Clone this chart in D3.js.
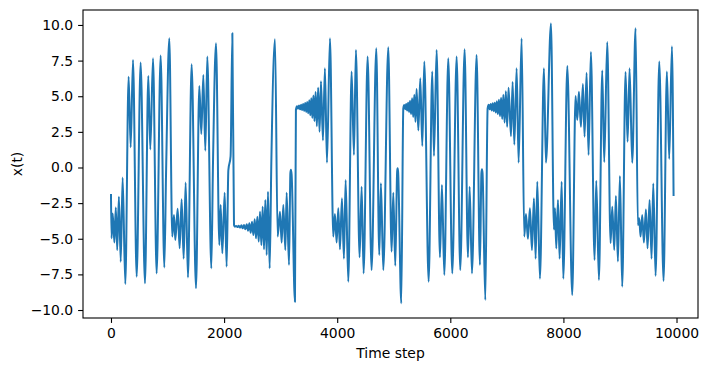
<!DOCTYPE html>
<html>
<head>
<meta charset="utf-8">
<script src="https://d3js.org/d3.v7.min.js"></script>
<style>
  body { margin: 0; background: #fff; }
  text { font-family: "DejaVu Sans", sans-serif; }
</style>
</head>
<body>
<div id="chart"></div>
<script>
// time steps of the turning points
var steps = [
  0, 10, 30, 60, 85, 110, 140, 172, 206, 253, 312, 348, 389, 454, 524, 601, 660, 695, 743, 807,
  878, 943, 975, 1031, 1084, 1114, 1137, 1179, 1214, 1249, 1285, 1320, 1361, 1426, 1503, 1562, 1597, 1633, 1668, 1703,
  1774, 1804, 1857, 1916, 1939, 1969, 2010, 2045, 2075, 2115, 2146, 2175, 2190, 2212, 2236, 2259, 2283, 2306, 2330, 2353,
  2377, 2400, 2424, 2447, 2471, 2494, 2518, 2541, 2565, 2588, 2612, 2635, 2659, 2682, 2706, 2729, 2753, 2776, 2806, 2835,
  2900, 2947, 2988, 3018, 3047, 3083, 3106, 3148, 3172, 3182, 3194, 3253, 3270, 3290, 3308, 3326, 3344, 3362, 3380, 3398,
  3416, 3434, 3452, 3470, 3488, 3506, 3524, 3542, 3560, 3579, 3598, 3618, 3640, 3663, 3688, 3713, 3748, 3783, 3819, 3872,
  3931, 3960, 3990, 4019, 4049, 4084, 4119, 4149, 4196, 4255, 4296, 4331, 4396, 4432, 4467, 4538, 4608, 4691, 4744, 4773,
  4815, 4903, 4962, 4992, 5027, 5060, 5068, 5077, 5133, 5169, 5186, 5203, 5220, 5237, 5254, 5271, 5288, 5306, 5325, 5344,
  5364, 5384, 5404, 5435, 5469, 5505, 5540, 5617, 5681, 5711, 5758, 5817, 5852, 5894, 5964, 6035, 6112, 6176, 6253, 6312,
  6342, 6383, 6465, 6524, 6550, 6560, 6570, 6619, 6660, 6680, 6697, 6715, 6733, 6751, 6769, 6787, 6805, 6823, 6841, 6860,
  6879, 6898, 6918, 6938, 6960, 6982, 7005, 7030, 7073, 7102, 7132, 7173, 7208, 7261, 7308, 7338, 7373, 7408, 7444, 7479,
  7509, 7538, 7585, 7656, 7691, 7780, 7833, 7851, 7874, 7904, 7933, 7969, 7998, 8069, 8156, 8215, 8245, 8274, 8310, 8345,
  8374, 8410, 8445, 8486, 8551, 8581, 8628, 8687, 8722, 8775, 8834, 8864, 8899, 8928, 8964, 8999, 9040, 9099, 9135, 9170,
  9217, 9276, 9317, 9341, 9364, 9394, 9423, 9459, 9488, 9524, 9559, 9589, 9630, 9695, 9771, 9830, 9871, 9919, 9948
];

// x(t) at those steps
var xValues = [
  -1.93, -4.97, -3.22, -5.27, -2.8, -5.79, -2.05, -6.61, -0.71, -8.18, 6.37, 1.42, 7.54, -7.66, 7.36, -8.13, 6.42, 1.27, 7.66, -7.43,
  7.85, -7.01, -0.1, 9.06, -4.85, -3.33, -5.09, -2.89, -5.67, -2.23, -6.4, -1.06, -7.71, 7.24, -8.48, 5.72, 2.35, 6.49, 1.18, 7.78,
  -7.08, 0.41, 8.71, -5.44, -2.63, -6.02, -1.77, -6.96, -0.2, 0.8, 9.42, -4.04, -4.15, -4.1, -4.18, -4.08, -4.22, -4.06, -4.27, -4.04,
  -4.34, -3.99, -4.43, -3.92, -4.58, -3.8, -4.74, -3.64, -4.97, -3.45, -5.2, -3.1, -5.44, -2.75, -5.74, -2.28, -6.14, -1.7, -7.08, 0.3,
  9.0, -4.85, -3.1, -5.27, -2.63, -5.79, -1.77, -6.84, -0.4, -0.15, -0.5, -9.42, 4.05, 4.3, 4.12, 4.35, 4.08, 4.4, 4.03, 4.46,
  3.97, 4.52, 3.9, 4.6, 3.8, 4.72, 3.66, 4.86, 3.48, 5.05, 3.25, 5.3, 2.9, 5.6, 2.5, 6.05, 1.9, 6.96, 0.34, 9.06,
  -4.85, -3.26, -5.27, -2.86, -5.74, -2.16, -6.4, -0.88, -8.01, 6.73, 0.88, 8.25, -6.3, -1.35, -7.43, 7.78, -7.2, 8.36, -6.14, -1.1,
  -7.2, 8.43, -5.9, -1.77, -6.9, -0.3, -0.06, -0.3, -9.53, 4.15, 4.38, 4.08, 4.45, 4.0, 4.55, 3.9, 4.68, 3.75, 4.85, 3.55,
  5.1, 3.2, 5.5, 2.6, 6.26, 1.5, 7.43, -8.01, 6.73, 0.8, 8.25, -6.3, -1.23, -7.54, 7.66, -7.43, 7.78, -7.2, 8.29, -6.3,
  -1.35, -7.43, 7.89, -6.84, -0.4, -0.13, -0.4, -9.3, 4.15, 4.4, 4.08, 4.45, 4.0, 4.5, 3.95, 4.55, 3.85, 4.65, 3.75, 4.75,
  3.6, 4.9, 3.4, 5.1, 3.15, 5.35, 2.85, 5.6, 2.2, 6.0, 1.6, 6.96, 0.34, 9.06, -4.85, -3.26, -5.0, -2.86, -5.79, -2.16,
  -6.4, -1.0, -7.8, 6.96, 0.33, 10.1, -4.35, -2.86, -5.68, -2.28, -6.4, -1.0, -7.8, 7.12, -8.95, 5.01, 3.33, 5.32, 2.86, 5.85,
  2.16, 6.64, 0.88, 8.11, -6.49, -0.93, -7.89, 6.81, 0.37, 8.8, -5.3, -2.75, -5.79, -2.0, -6.6, -0.6, -8.36, 6.7, 1.8, 6.96,
  0.33, 9.77, -4.04, -3.57, -4.85, -3.33, -5.27, -2.94, -5.67, -2.28, -6.4, -1.12, -7.6, 7.43, -7.96, 6.73, 0.6, 8.5, -1.93
];

var xTicks = [0, 2000, 4000, 6000, 8000, 10000];
var yTicks = [-10, -7.5, -5, -2.5, 0, 2.5, 5, 7.5, 10];
var xLabel = "Time step";
var yLabel = "x(t)";

var W = 711, H = 371;
var margin = {left: 83, top: 10, right: 13, bottom: 53};
var iw = W - margin.left - margin.right;
var ih = H - margin.top - margin.bottom;

var svg = d3.select("#chart").append("svg")
  .attr("width", W).attr("height", H);

var g = svg.append("g").attr("transform", "translate(" + margin.left + "," + margin.top + ")");

var x = d3.scaleLinear().domain([-495, 10380]).range([0, iw]);
var y = d3.scaleLinear().domain([-10.56, 11.05]).range([ih, 0]);

var data = steps.map(function (s, i) { return [s, xValues[i]]; });

var line = d3.line()
  .x(function (d) { return x(d[0]); })
  .y(function (d) { return y(d[1]); })
  .curve(d3.curveMonotoneX);

g.append("path")
  .datum(data)
  .attr("d", line)
  .attr("fill", "none")
  .attr("stroke", "#1f77b4")
  .attr("stroke-width", 2)
  .attr("stroke-linejoin", "round")
  .attr("stroke-linecap", "square");

// axes
var xAxis = g.append("g").attr("transform", "translate(0," + ih + ")")
  .call(d3.axisBottom(x).tickValues(xTicks).tickFormat(d3.format("d"))
    .tickSize(4.9).tickPadding(4.9).tickSizeOuter(0));
var yAxis = g.append("g")
  .call(d3.axisLeft(y).tickValues(yTicks).tickFormat(d3.format(".1f"))
    .tickSize(4.9).tickPadding(4.9).tickSizeOuter(0));

[xAxis, yAxis].forEach(function (a) {
  a.select(".domain").remove();
  a.selectAll("line").attr("stroke", "#000").attr("stroke-width", 1.1);
  a.selectAll("text").attr("fill", "#000").style("font-size", "13.9px")
    .style("font-family", "'DejaVu Sans', sans-serif");
});

// frame
g.append("rect")
  .attr("width", iw).attr("height", ih)
  .attr("fill", "none").attr("stroke", "#000").attr("stroke-width", 1.1);

svg.append("text")
  .attr("x", margin.left + iw / 2).attr("y", 358)
  .attr("text-anchor", "middle")
  .style("font-size", "13.9px")
  .text(xLabel);

svg.append("text")
  .attr("transform", "translate(22," + (margin.top + ih / 2) + ") rotate(-90)")
  .attr("text-anchor", "middle")
  .style("font-size", "13.9px")
  .text(yLabel);
</script>
</body>
</html>
